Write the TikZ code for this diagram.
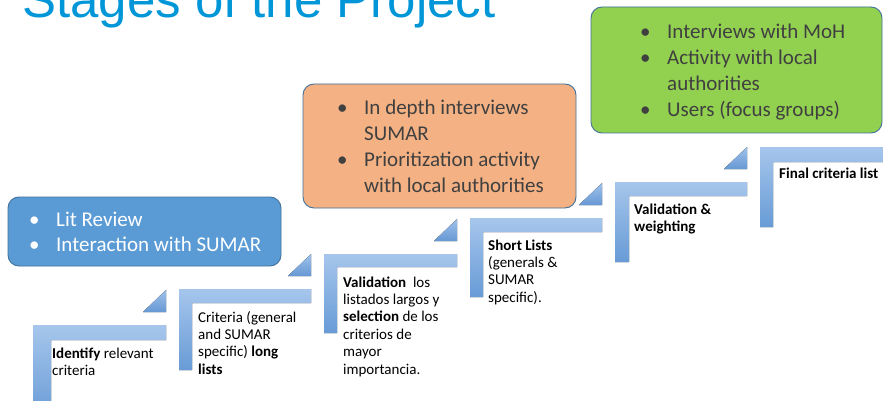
\documentclass[tikz,border=0pt]{standalone}
\usepackage{fontspec}
\setmainfont{Carlito}
\newfontfamily\titlefont{Liberation Sans}

\definecolor{titleblue}{RGB}{0,150,215}
\definecolor{boxedge}{RGB}{65,113,156}
\definecolor{boxblue}{RGB}{91,155,213}
\definecolor{boxorange}{RGB}{244,177,131}
\definecolor{boxgreen}{RGB}{146,208,80}
\definecolor{boxtext}{RGB}{64,64,64}
\definecolor{steplight}{RGB}{166,198,236}
\definecolor{stepdark}{RGB}{104,155,214}
\definecolor{arrowlight}{RGB}{160,194,234}
\definecolor{arrowdark}{RGB}{102,152,212}

% one stair step: vertical bar x1..x2, top bar yt..yb reaching xr, bar bottom yv
\newcommand\stairstep[6]{%
  \fill[top color=steplight,bottom color=stepdark]
    (#1,#4) -- (#3,#4) -- (#3,#5) -- (#2,#5) -- (#2,#6) -- (#1,#6) -- cycle;
}
% the small rising wedge above the right end of a top bar
\newcommand\stairwedge[2]{%
  \fill[top color=arrowlight,bottom color=arrowdark]
    (#1-23,#2-13) -- (#1,#2-35) -- (#1,#2-13) -- cycle;
}

\tikzset{
  stagebox/.style={draw=boxedge,line width=0.9pt,rounded corners=11pt,
    inner sep=0pt,anchor=center},
  boxlines/.style={anchor=base west,inner sep=0pt,
    font=\fontsize{21}{25.7}\selectfont},
  steptext/.style={anchor=base west,inner sep=0pt,text=black,
    font=\fontsize{15}{17.4}\selectfont},
}
\newcommand\bul{\makebox[27pt][l]{•}}
\newcommand\ind{\hspace*{27pt}}

\begin{document}
\begin{tikzpicture}[x=1pt,y=-1pt]
\useasboundingbox (0,0) rectangle (883,401);
\clip (0,0) rectangle (883,401);
\fill[white] (0,0) rectangle (883,401);

% title, partly above the top edge
\node[anchor=base west,inner sep=0pt,text=titleblue,
  font=\titlefont\fontsize{51}{60}\selectfont] (title) at (22,17.5) {Stages of the Project};

% stair steps
\stairstep{33}{51}{166}{325}{340}{420}
\stairwedge{166}{325}
\stairstep{179}{192}{311}{289}{303}{370}
\stairwedge{311}{289}
\stairstep{324}{337}{457}{254}{267}{333}
\stairwedge{457}{254}
\stairstep{470}{483}{602}{218}{232}{297}
\stairwedge{602}{218}
\stairstep{615}{629}{747}{182}{196}{262}
\stairwedge{747}{182}
\stairstep{760}{773}{900}{147}{162}{227}

% step labels
\node[steptext] (s1) at (52,358) {\begin{tabular}[t]{@{}l@{}}
  \textbf{Identify} relevant\\ criteria\end{tabular}};
\node[steptext] (s2) at (198,322) {\begin{tabular}[t]{@{}l@{}}
  Criteria (general\\ and SUMAR\\ specific) \textbf{long}\\ \textbf{lists}\end{tabular}};
\node[steptext] (s3) at (343,287) {\begin{tabular}[t]{@{}l@{}}
  \textbf{Validation}\ \ los\\ listados largos y\\ \textbf{selection} de los\\
  criterios de\\ mayor\\ importancia.\end{tabular}};
\node[steptext] (s4) at (488,250) {\begin{tabular}[t]{@{}l@{}}
  \textbf{Short Lists}\\ (generals \&\\ SUMAR\\ specific).\end{tabular}};
\node[steptext] (s5) at (634,214.5) {\begin{tabular}[t]{@{}l@{}}
  \textbf{Validation \&}\\ \textbf{weighting}\end{tabular}};
\node[steptext] (s6) at (779,178) {\textbf{Final criteria list}};

% activity boxes
\node[stagebox,fill=boxblue,minimum width=273pt,minimum height=69pt]
  (bluebox) at (144.5,231.5) {};
\node[boxlines,text=white] (bluetext) at (29,226) {\begin{tabular}[t]{@{}l@{}}
  \bul Lit Review\\ \bul Interaction with SUMAR\end{tabular}};

\node[stagebox,fill=boxorange,minimum width=273pt,minimum height=124pt]
  (orangebox) at (439.5,146) {};
\node[boxlines,text=boxtext] (orangetext) at (337,115) {\begin{tabular}[t]{@{}l@{}}
  \bul In depth interviews\\ \ind SUMAR\\ \bul Prioritization activity\\
  \ind with local authorities\end{tabular}};

\node[stagebox,fill=boxgreen,minimum width=291pt,minimum height=126pt]
  (greenbox) at (736.5,70) {};
\node[boxlines,text=boxtext] (greentext) at (640,39) {\begin{tabular}[t]{@{}l@{}}
  \bul Interviews with MoH\\ \bul Activity with local\\ \ind authorities\\
  \bul Users (focus groups)\end{tabular}};
\end{tikzpicture}
\end{document}
